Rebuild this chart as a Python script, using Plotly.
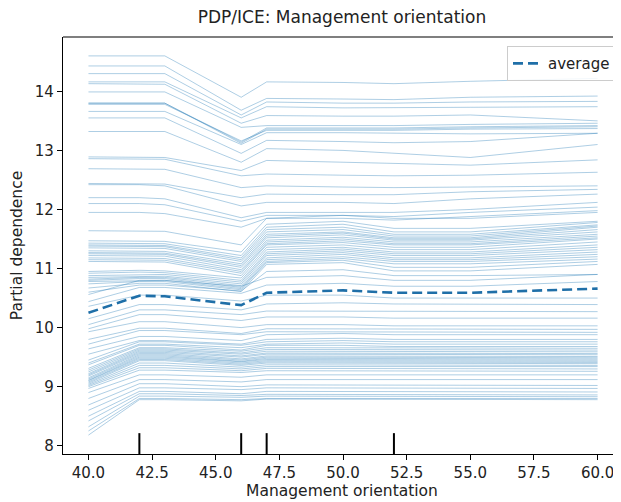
import plotly.graph_objects as go

# Grid of feature values where ICE curves are evaluated
grid_x = [40, 42, 43, 46, 47, 50, 52, 55, 60]

# Average (partial dependence) curve
average = [10.25, 10.54, 10.53, 10.38, 10.59, 10.63, 10.59, 10.59, 10.66]

# Deciles shown as rug ticks
deciles = [42, 46, 47, 52]

# ICE curves – upper group
ice_top = [
    [14.60, 14.60, 14.60, 13.90, 14.16, 14.15, 14.13, 14.17, 14.22],
    [14.43, 14.43, 14.43, 13.68, 13.88, 13.87, 13.86, 13.90, 13.92],
    [14.30, 14.30, 14.30, 13.60, 13.82, 13.80, 13.80, 13.82, 13.83],
    [14.16, 14.16, 14.16, 13.55, 13.74, 13.72, 13.72, 13.73, 13.74],
    [14.13, 14.13, 14.12, 13.46, 13.59, 13.58, 13.58, 13.60, 13.50],
    [13.99, 13.99, 13.99, 13.39, 13.42, 13.42, 13.42, 13.44, 13.46],
    [13.80, 13.80, 13.80, 13.14, 13.38, 13.38, 13.38, 13.40, 13.42],
    [13.80, 13.80, 13.80, 13.12, 13.36, 13.36, 13.36, 13.38, 13.40],
    [13.78, 13.78, 13.78, 13.16, 13.34, 13.34, 13.34, 13.36, 13.37],
    [13.66, 13.66, 13.66, 13.10, 13.30, 13.30, 13.29, 13.28, 13.29],
    [13.55, 13.55, 13.55, 12.95, 13.17, 13.15, 13.13, 13.15, 13.29],
    [13.32, 13.32, 13.32, 12.80, 13.03, 13.00, 12.95, 12.88, 13.10],
    [12.89, 12.89, 12.88, 12.66, 12.83, 12.80, 12.78, 12.75, 12.84],
    [12.86, 12.86, 12.85, 12.57, 12.60, 12.58, 12.57, 12.58, 12.63],
    [12.69, 12.69, 12.68, 12.37, 12.40, 12.38, 12.37, 12.38, 12.40],
    [12.44, 12.44, 12.43, 12.20, 12.26, 12.25, 12.25, 12.30, 12.34],
    [12.42, 12.42, 12.40, 12.06, 12.12, 12.12, 12.10, 12.18, 12.26],
    [12.20, 12.20, 12.18, 11.86, 11.95, 11.95, 11.95, 12.00, 12.12],
    [12.10, 12.10, 12.08, 11.80, 11.90, 11.90, 11.88, 11.95, 12.04],
    [11.95, 11.95, 11.93, 11.70, 11.85, 11.85, 11.82, 11.88, 11.98],
]

# ICE curves – middle band
ice_mid = [
    [11.64, 11.64, 11.63, 11.40, 11.85, 11.90, 11.85, 11.85, 11.95],
    [11.47, 11.47, 11.46, 11.28, 11.75, 11.80, 11.68, 11.68, 11.80],
    [11.43, 11.43, 11.42, 11.22, 11.70, 11.75, 11.62, 11.62, 11.78],
    [11.40, 11.40, 11.39, 11.18, 11.66, 11.70, 11.58, 11.58, 11.74],
    [11.38, 11.38, 11.37, 11.15, 11.62, 11.66, 11.55, 11.55, 11.72],
    [11.35, 11.35, 11.34, 11.12, 11.58, 11.62, 11.52, 11.52, 11.70],
    [11.30, 11.30, 11.29, 11.08, 11.55, 11.60, 11.50, 11.50, 11.66],
    [11.27, 11.27, 11.26, 11.05, 11.52, 11.57, 11.48, 11.48, 11.62],
    [11.25, 11.25, 11.24, 11.02, 11.48, 11.53, 11.45, 11.45, 11.58],
    [11.22, 11.22, 11.21, 10.98, 11.45, 11.50, 11.42, 11.42, 11.55],
    [11.18, 11.18, 11.17, 10.95, 11.42, 11.47, 11.40, 11.40, 11.52],
    [11.15, 11.15, 11.14, 10.92, 11.40, 11.44, 11.36, 11.36, 11.50],
    [11.12, 11.12, 11.11, 10.88, 11.36, 11.40, 11.32, 11.32, 11.45],
    [10.95, 10.97, 10.96, 10.84, 11.32, 11.36, 11.28, 11.28, 11.40],
    [10.92, 10.94, 10.93, 10.80, 11.28, 11.33, 11.25, 11.25, 11.36],
    [10.88, 10.90, 10.90, 10.77, 11.25, 11.30, 11.22, 11.22, 11.32],
    [10.85, 10.87, 10.87, 10.74, 11.22, 11.27, 11.18, 11.18, 11.28],
    [10.82, 10.85, 10.85, 10.71, 11.18, 11.24, 11.15, 11.15, 11.24],
    [10.80, 10.83, 10.83, 10.68, 11.15, 11.20, 11.12, 11.12, 11.20],
    [10.78, 10.80, 10.80, 10.66, 11.12, 11.17, 11.08, 11.08, 11.16],
    [10.74, 10.78, 10.78, 10.64, 11.10, 11.14, 11.02, 11.02, 11.12],
    [10.67, 10.75, 10.75, 10.61, 11.07, 11.10, 10.96, 10.96, 11.07],
    [10.60, 10.72, 10.72, 10.62, 10.95, 10.98, 10.88, 10.88, 10.90],
]

# ICE curves – lower group
ice_low = [
    [10.56, 10.80, 10.80, 10.70, 10.85, 10.88, 10.80, 10.80, 10.90],
    [10.44, 10.68, 10.68, 10.58, 10.72, 10.75, 10.70, 10.70, 10.78],
    [10.36, 10.55, 10.55, 10.45, 10.55, 10.55, 10.50, 10.50, 10.50],
    [10.15, 10.39, 10.39, 10.30, 10.40, 10.42, 10.40, 10.40, 10.39],
    [10.05, 10.30, 10.30, 10.22, 10.28, 10.28, 10.27, 10.27, 10.27],
    [9.98, 10.22, 10.22, 10.12, 10.18, 10.18, 10.16, 10.16, 10.16],
    [9.93, 10.10, 10.10, 10.00, 10.05, 10.05, 10.03, 10.03, 10.03],
    [9.80, 9.99, 9.99, 9.90, 9.98, 9.98, 9.97, 9.97, 9.97],
    [9.72, 9.95, 9.95, 9.88, 9.93, 9.93, 9.92, 9.92, 9.92],
    [9.64, 9.85, 9.85, 9.78, 9.88, 9.90, 9.88, 9.88, 9.88],
    [9.55, 9.78, 9.78, 9.72, 9.80, 9.82, 9.80, 9.80, 9.80],
    [9.45, 9.76, 9.76, 9.70, 9.76, 9.78, 9.76, 9.76, 9.76],
    [9.40, 9.72, 9.72, 9.66, 9.72, 9.74, 9.72, 9.72, 9.72],
    [9.37, 9.70, 9.70, 9.62, 9.70, 9.70, 9.68, 9.68, 9.68],
    [9.31, 9.66, 9.66, 9.60, 9.66, 9.66, 9.65, 9.65, 9.65],
    [9.28, 9.64, 9.64, 9.57, 9.63, 9.63, 9.62, 9.62, 9.62],
    [9.25, 9.62, 9.62, 9.55, 9.60, 9.60, 9.59, 9.59, 9.59],
    [9.22, 9.60, 9.60, 9.52, 9.57, 9.57, 9.56, 9.56, 9.56],
    [9.20, 9.58, 9.58, 9.50, 9.55, 9.55, 9.54, 9.54, 9.54],
    [9.18, 9.56, 9.56, 9.47, 9.52, 9.52, 9.51, 9.51, 9.51],
    [9.15, 9.54, 9.54, 9.45, 9.50, 9.50, 9.49, 9.49, 9.49],
    [9.13, 9.52, 9.52, 9.43, 9.48, 9.48, 9.47, 9.47, 9.47],
    [9.11, 9.50, 9.50, 9.42, 9.46, 9.46, 9.45, 9.45, 9.45],
    [9.10, 9.48, 9.48, 9.40, 9.44, 9.44, 9.43, 9.43, 9.43],
    [9.08, 9.46, 9.46, 9.38, 9.42, 9.42, 9.41, 9.41, 9.41],
    [9.06, 9.44, 9.44, 9.36, 9.40, 9.40, 9.39, 9.39, 9.39],
    [9.04, 9.40, 9.40, 9.33, 9.37, 9.37, 9.36, 9.36, 9.36],
    [9.02, 9.36, 9.36, 9.30, 9.34, 9.34, 9.34, 9.34, 9.34],
    [9.00, 9.32, 9.32, 9.27, 9.31, 9.31, 9.30, 9.30, 9.30],
    [8.97, 9.28, 9.28, 9.24, 9.27, 9.27, 9.26, 9.26, 9.26],
    [8.90, 9.20, 9.20, 9.16, 9.20, 9.20, 9.20, 9.20, 9.20],
    [8.80, 9.12, 9.12, 9.08, 9.12, 9.12, 9.12, 9.12, 9.12],
    [8.69, 9.05, 9.05, 9.00, 9.03, 9.03, 9.02, 9.02, 9.02],
    [8.60, 8.98, 8.98, 8.95, 8.98, 8.98, 8.97, 8.97, 8.97],
    [8.50, 8.92, 8.92, 8.88, 8.92, 8.92, 8.91, 8.91, 8.91],
    [8.42, 8.88, 8.88, 8.85, 8.87, 8.87, 8.86, 8.86, 8.86],
    [8.32, 8.84, 8.84, 8.82, 8.84, 8.84, 8.83, 8.83, 8.83],
    [8.25, 8.80, 8.80, 8.78, 8.80, 8.80, 8.80, 8.80, 8.80],
    [8.18, 8.78, 8.78, 8.76, 8.79, 8.79, 8.78, 8.78, 8.78],
]

x_ticks = [40.0, 42.5, 45.0, 47.5, 50.0, 52.5, 55.0, 57.5, 60.0]
y_ticks = [8, 9, 10, 11, 12, 13, 14]

FONT = "DejaVu Sans"
TXT = "#222222"
ICE_COLOR = "rgba(31,119,180,0.36)"

# The page body adds an 8px offset; compensate so the plot lands where the reference has it
FIG_W, FIG_H = 613, 494

fig = go.Figure()

for curve in ice_top + ice_mid + ice_low:
    fig.add_trace(go.Scatter(
        x=grid_x, y=curve, mode="lines",
        line=dict(color=ICE_COLOR, width=1.0),
        showlegend=False, hoverinfo="skip",
    ))

fig.add_trace(go.Scatter(
    x=grid_x, y=average, mode="lines", name="average",
    line=dict(color="#1f6fa8", width=2.6, dash="10px,5px"),
))

for d in deciles:
    fig.add_shape(type="line", xref="x", yref="y domain",
                  x0=d, x1=d, y0=0, y1=0.05,
                  line=dict(color="black", width=2))

# top frame line (right side of the frame falls outside the cropped view)
fig.add_shape(type="line", xref="x domain", yref="y domain",
              x0=0, x1=1, y0=1, y1=1, line=dict(color="black", width=1.2))

fig.update_layout(
    width=FIG_W, height=FIG_H,
    margin=dict(l=55, r=0, t=29, b=48, autoexpand=False),
    paper_bgcolor="white", plot_bgcolor="white",
    font=dict(family=FONT, size=15, color=TXT),
    title=dict(text="PDP/ICE: Management orientation",
               x=0.5, xref="paper", xanchor="center",
               y=1 - 9 / FIG_H, yref="container", yanchor="middle",
               font=dict(family=FONT, size=17, color=TXT)),
    legend=dict(x=0.991, y=0.978, xanchor="right", yanchor="top",
                bgcolor="rgba(255,255,255,0.85)", bordercolor="#cccccc",
                borderwidth=1, font=dict(family=FONT, size=15, color=TXT)),
    showlegend=True,
)

fig.update_xaxes(
    range=[39, 60.92], tickvals=x_ticks, ticktext=[f"{v:.1f}" for v in x_ticks],
    showline=True, linecolor="black", linewidth=1.2, mirror=False,
    ticks="outside", ticklen=5, tickcolor="black", showgrid=False, zeroline=False,
    tickfont=dict(family=FONT, size=15, color=TXT), automargin=False,
    title=dict(text="Management orientation", standoff=4,
               font=dict(family=FONT, size=15.5, color=TXT)),
)
fig.update_yaxes(
    range=[7.86, 14.92], tickvals=y_ticks,
    showline=True, linecolor="black", linewidth=1.2, mirror=False,
    ticks="outside", ticklen=5, tickcolor="black", showgrid=False, zeroline=False,
    tickfont=dict(family=FONT, size=15, color=TXT), automargin=False,
    title=dict(text="Partial dependence", standoff=8,
               font=dict(family=FONT, size=15.5, color=TXT)),
)

fig.write_html("out.html")
